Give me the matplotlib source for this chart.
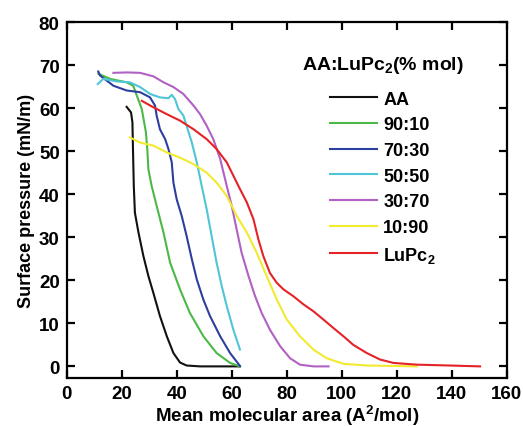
import matplotlib

matplotlib.use("Agg")

import matplotlib.pyplot as plt

plt.rcParams["font.family"] = ["Liberation Sans", "DejaVu Sans"]
plt.rcParams["font.weight"] = "bold"
plt.rcParams["mathtext.fontset"] = "custom"
plt.rcParams["mathtext.rm"] = "Liberation Sans:bold"
plt.rcParams["mathtext.bf"] = "Liberation Sans:bold"
plt.rcParams["mathtext.default"] = "bf"

# isotherm data: area (A^2/mol), pressure (mN/m)
aa_x = [21.8, 23.4, 23.9, 24.1, 24.4, 24.8, 26.1, 27.9, 29.7, 31.5, 33.9, 36.4, 38.8, 41.2, 43.6, 48.5, 63.0]
aa_y = [60.3, 59.0, 56.7, 50.5, 41.9, 35.7, 31.1, 25.6, 21.0, 17.1, 11.7, 7.0, 3.1, 0.9, 0.2, 0.0, 0.0]

m90_x = [11.5, 15.8, 21.8, 24.2, 25.5, 27.3, 28.8, 29.3, 29.7, 30.9, 32.7, 35.2, 37.6, 41.2, 44.8, 49.7, 54.5, 59.4, 63.0]
m90_y = [68.0, 66.8, 66.0, 65.2, 62.9, 59.8, 54.4, 50.5, 45.8, 41.9, 37.3, 31.1, 24.1, 17.9, 12.4, 7.0, 3.1, 0.8, 0.0]

m70_x = [11.5, 12.1, 17.0, 21.8, 26.7, 30.3, 32.1, 32.7, 33.9, 35.8, 37.0, 38.2, 38.8, 40.0, 41.8, 43.6, 45.5,
         47.3, 49.7, 52.1, 55.8, 59.4, 63.0]
m70_y = [68.5, 67.6, 65.2, 64.1, 63.7, 62.5, 60.6, 58.3, 55.1, 52.8, 50.5, 47.4, 42.7, 38.8, 35.0, 30.3, 24.9,
         20.2, 15.5, 11.7, 7.0, 3.1, 0.1]

m50_x = [11.3, 13.3, 18.2, 23.0, 26.7, 30.3, 33.9, 37.0, 38.2, 39.4, 40.6, 42.4, 43.6, 45.5, 47.3, 49.1, 50.9,
         52.7, 54.5, 56.4, 58.2, 60.6, 63.0]
m50_y = [65.6, 66.8, 66.2, 66.0, 64.9, 63.3, 62.5, 62.3, 63.1, 62.1, 59.8, 58.3, 55.9, 52.0, 47.4, 41.9, 36.5,
         30.3, 24.1, 18.6, 14.0, 8.5, 3.9]

m30_x = [17.0, 21.8, 26.7, 31.5, 35.2, 38.8, 42.4, 46.1, 48.5, 50.9, 53.3, 55.8, 58.2, 60.0, 61.8, 63.6, 66.1,
         68.5, 70.9, 73.9, 77.6, 81.2, 84.8, 89.7, 95.2]
m30_y = [68.2, 68.3, 68.2, 67.4, 66.0, 64.9, 63.3, 60.6, 58.6, 55.9, 52.8, 48.2, 41.9, 37.3, 31.8, 26.4, 21.0,
         16.3, 12.4, 8.5, 4.7, 1.9, 0.4, 0.0, 0.0]

m10_x = [23.0, 26.7, 31.5, 36.4, 41.2, 46.1, 50.9, 54.5, 58.2, 61.8, 65.5, 69.1, 72.7, 76.4, 80.0, 84.8, 89.7,
         94.5, 100.6, 109.1, 127.3]
m10_y = [53.2, 52.0, 51.3, 49.7, 48.5, 47.0, 45.0, 42.7, 39.6, 35.0, 31.1, 26.4, 21.0, 15.5, 10.9, 7.0, 3.9,
         1.9, 0.6, 0.2, 0.0]

lu_x = [27.3, 31.5, 36.4, 41.2, 46.1, 50.9, 54.5, 58.2, 60.6, 63.0, 65.5, 67.9, 69.7, 71.5, 73.9, 76.4, 78.8,
        82.4, 86.1, 89.7, 93.3, 97.0, 100.6, 104.2, 109.1, 113.9, 118.8, 127.3, 139.4, 150.3]
lu_y = [61.7, 60.2, 58.6, 57.1, 55.1, 52.8, 50.5, 47.4, 44.3, 41.2, 38.1, 34.2, 29.5, 25.6, 21.7, 19.4, 17.9,
        16.3, 14.4, 12.8, 10.9, 8.9, 7.0, 5.0, 3.1, 1.6, 0.8, 0.4, 0.2, 0.0]

series = [
    ("AA", aa_x, aa_y, "#111111"),
    ("90:10", m90_x, m90_y, "#4cb848"),
    ("70:30", m70_x, m70_y, "#2d3f9e"),
    ("50:50", m50_x, m50_y, "#4fc5d8"),
    ("30:70", m30_x, m30_y, "#b061c2"),
    ("10:90", m10_x, m10_y, "#f2ea2e"),
    ("LuPc$_2$", lu_x, lu_y, "#e42228"),
]

fig = plt.figure(figsize=(5.23, 4.27), dpi=100)
ax = fig.add_axes([0.1275, 0.1124, 0.8415, 0.8336])

for name, xs, ys, col in series:
    ax.plot(xs, ys, color=col, linewidth=1.5, label=name)

ax.set_xlim(0, 160)
ax.set_ylim(-2.7, 80)
ax.set_xticks(range(0, 161, 20))
ax.set_yticks(range(0, 81, 10))
ax.tick_params(direction="in", top=True, right=True, length=6, width=1.6, labelsize=13.5, pad=5)
for s in ax.spines.values():
    s.set_linewidth(1.6)
ax.set_xlabel("Mean molecular area (A$^2$/mol)", fontsize=13.5, fontweight="bold", labelpad=1)
ax.set_ylabel("Surface pressure (mN/m)", fontsize=13, fontweight="bold", labelpad=3)

leg = ax.legend(loc="upper left", bbox_to_anchor=(0.498, 0.955), frameon=False,
                title="AA:LuPc$_2$(% mol)", fontsize=13, title_fontsize=14,
                handlelength=2.6, handletextpad=0.35, labelspacing=0.48)
leg.get_title().set_fontweight("bold")
leg._legend_box.align = "center"
leg._legend_box.sep = 11
for t in leg.get_texts():
    t.set_fontweight("bold")

fig.savefig("out.png", dpi=100)
